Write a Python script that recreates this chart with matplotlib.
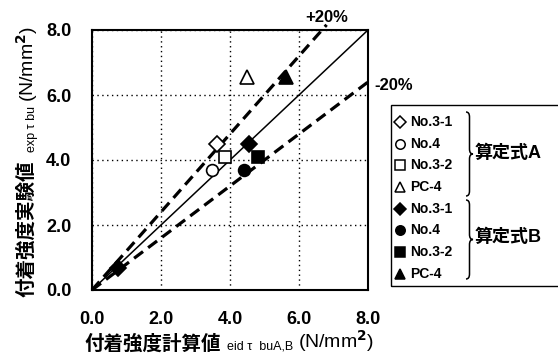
import numpy as np
import matplotlib.pyplot as plt
from matplotlib.lines import Line2D
from matplotlib.path import Path
from matplotlib.patches import PathPatch, Rectangle

plt.rcParams['font.family'] = ['Liberation Sans', 'Noto Sans CJK JP']
plt.rcParams['font.weight'] = 'bold'

# data
names = ['No.3-1', 'No.4', 'No.3-2', 'PC-4']
markers = ['D', 'o', 's', '^']
# 算定式A (open markers)
a_x = [[3.63], [3.49], [3.86], [4.50]]
a_y = [[4.49], [3.69], [4.09], [6.55]]
# 算定式B (filled markers)
b_x = [[4.55, 0.75], [4.41], [4.81], [5.62]]
b_y = [[4.49, 0.68], [3.69], [4.09], [6.55]]

line_x = [0, 8]
plus_x = [0, 6.8]
ticks = [0, 2, 4, 6, 8]
tick_labels = ['0.0', '2.0', '4.0', '6.0', '8.0']

W, H = 558, 360
fig = plt.figure(figsize=(W / 100, H / 100), dpi=100)
ax = fig.add_axes([92 / W, 70 / H, 276 / W, 260 / H])

def px(x, y):
    return (x / W, 1 - y / H)

ax.plot(line_x, line_x, color='k', lw=1.1)
ax.plot(plus_x, [1.2 * v for v in plus_x], color='k', lw=2.3, ls=(0, (3.5, 2)), clip_on=False)
ax.plot(line_x, [0.8 * v for v in line_x], color='k', lw=2.3, ls=(0, (3.5, 2)), clip_on=False)

sizes = {'D': 8, 'o': 8.5, 's': 9, '^': 9.5}
for i in range(4):
    m = markers[i]
    ax.plot(a_x[i], a_y[i], m, ms=sizes[m], mfc='white', mec='k', mew=1.2, zorder=5)
    ax.plot(b_x[i], b_y[i], m, ms=sizes[m], mfc='k', mec='k', mew=1.2, zorder=5)

ax.text(6.8, 8.4, '+20%', ha='center', va='center', fontsize=12)
ax.text(8.18, 6.3, '-20%', ha='left', va='center', fontsize=12)

ax.set_xlim(0, 8)
ax.set_ylim(0, 8)
ax.set_xticks(ticks, tick_labels)
ax.set_yticks(ticks, tick_labels)
ax.tick_params(length=0, labelsize=13, pad=15)
ax.grid(True, color='k', ls=(0, (1, 2.5)), lw=1)
for s in ax.spines.values():
    s.set_linewidth(1.5)

# x label
t1 = fig.text(84 / W, 1 - 344 / H, '付着強度計算値', fontsize=14, ha='left', va='center')
t2 = ax.annotate('eid τ  buA,B', xy=(1, 0), xycoords=t1, xytext=(5, 1),
                 textcoords='offset points', fontsize=9, fontweight='normal',
                 ha='left', va='bottom')
ax.annotate('(N/mm$^2$)', xy=(1, 0), xycoords=t2, xytext=(3, -1),
            textcoords='offset points', fontsize=14, fontweight='normal',
            ha='left', va='bottom')

# y label
u1 = fig.text(27 / W, 1 - 297 / H, '付着強度実験値', fontsize=14, rotation=90,
              ha='center', va='bottom')
u2 = ax.annotate('exp τ bu', xy=(1, 1), xycoords=u1, xytext=(1, 6),
                 textcoords='offset points', fontsize=9, fontweight='normal',
                 rotation=90, ha='right', va='bottom')
ax.annotate('(N/mm$^2$)', xy=(0.5, 1), xycoords=(u1, u2), xytext=(0, 3),
            textcoords='offset points', fontsize=14, fontweight='normal',
            rotation=90, ha='center', va='bottom')

# legend box
fig.add_artist(Rectangle(px(391, 286), 200 / W, 181 / H, transform=fig.transFigure,
                         fill=False, ec='k', lw=1))
rows = [(m, n, True) for m, n in zip(markers, names)] + [(m, n, False) for m, n in zip(markers, names)]
for i, (m, n, op) in enumerate(rows):
    y = 122 + i * 21.7
    mx, my = px(400, y)
    fig.add_artist(Line2D([mx], [my], marker=m, ms=sizes[m] * 0.8, mfc='white' if op else 'k',
                          mec='k', mew=1.1, transform=fig.transFigure))
    tx, ty = px(410, y)
    fig.text(tx, ty, n, fontsize=10, ha='left', va='center')

def brace(x0, top, bot, w=3.5, r=5):
    mid = (top + bot) / 2
    pts = [(x0, top), (x0 + w, top), (x0 + w, top + r), (x0 + w, mid - r),
           (x0 + w, mid), (x0 + 2 * w, mid), (x0 + w, mid), (x0 + w, mid + r),
           (x0 + w, bot - r), (x0 + w, bot), (x0, bot)]
    codes = [Path.MOVETO, Path.CURVE3, Path.CURVE3, Path.LINETO,
             Path.CURVE3, Path.CURVE3, Path.CURVE3, Path.CURVE3,
             Path.LINETO, Path.CURVE3, Path.CURVE3]
    p = Path([px(*q) for q in pts], codes)
    fig.add_artist(PathPatch(p, fc='none', ec='k', lw=1.1, transform=fig.transFigure))

brace(466, 112, 196)
brace(466, 200, 279)
fig.text(*px(475, 153), '算定式A', fontsize=13, ha='left', va='center')
fig.text(*px(475, 237), '算定式B', fontsize=13, ha='left', va='center')

fig.savefig('out.png', dpi=100)
